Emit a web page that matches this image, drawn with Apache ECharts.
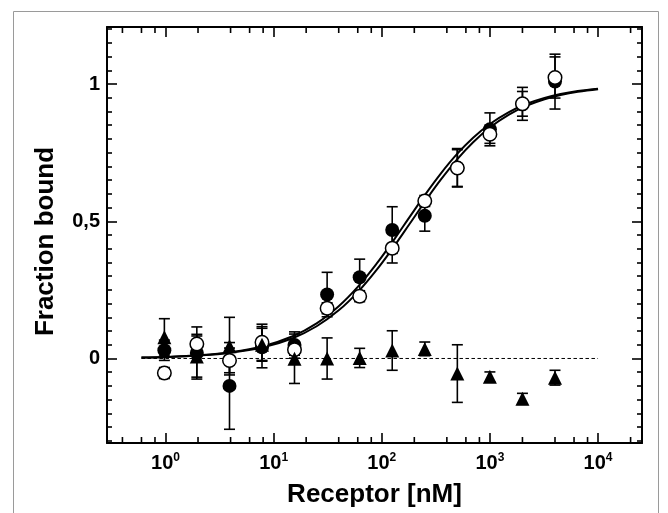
<!DOCTYPE html>
<html>
<head>
<meta charset="utf-8">
<script src="https://cdn.jsdelivr.net/npm/echarts@6/dist/echarts.min.js"></script>
<style>
  html, body { margin: 0; padding: 0; background: #fff; }
  #chart { width: 668px; height: 513px; }
</style>
</head>
<body>
<div id="chart"></div>
<script>
// Receptor concentrations (nM), two-fold dilution series
const conc = [0.977, 1.95, 3.91, 7.81, 15.6, 31.25, 62.5, 125, 250, 500, 1000, 2000, 4000];

// Filled circles
const filledMean = [0.03, 0.02, -0.1, 0.041, 0.049, 0.233, 0.296, 0.468, 0.52, 0.695, 0.835, 0.928, 1.009];
const filledErr  = [0.037, 0.095, 0.158, 0.075, 0.048, 0.081, 0.066, 0.085, 0.056, 0.07, 0.06, 0.06, 0.1];

// Open circles
const openMean = [-0.053, 0.053, -0.007, 0.059, 0.032, 0.183, 0.227, 0.402, 0.574, 0.694, 0.817, 0.928, 1.024];
const openErr  = [0.02, 0.035, 0.045, 0.066, 0.02, 0.02, 0.02, 0.054, 0.02, 0.067, 0.033, 0.045, 0.075];

// Filled triangles
const triMean = [0.077, 0.007, 0.045, 0.05, -0.001, 0.0, 0.002, 0.029, 0.035, -0.055, -0.067, -0.147, -0.07];
const triErr  = [0.068, 0.075, 0.105, 0.06, 0.09, 0.075, 0.035, 0.072, 0.025, 0.105, 0.018, 0.02, 0.027];

// Fitted binding curves, sampled along the concentration range
const fitConc   = [0.6, 1, 2, 4, 8, 15, 25, 40, 60, 90, 130, 180, 250, 350, 500, 700, 1000, 1500, 2200, 3200, 4500, 6500, 10000];
const fitFilled = [0.0035, 0.0058, 0.0116, 0.023, 0.0449, 0.0811, 0.1282, 0.1905, 0.2609, 0.3462, 0.4333, 0.5143, 0.5952, 0.6731, 0.7463, 0.8046, 0.8547, 0.8982, 0.9283, 0.9496, 0.9636, 0.9745, 0.9833];
const fitOpen   = [0.0032, 0.0053, 0.0105, 0.0208, 0.0408, 0.0739, 0.1174, 0.1754, 0.2419, 0.3237, 0.4088, 0.4891, 0.5708, 0.6506, 0.7267, 0.7883, 0.8418, 0.8886, 0.9213, 0.9445, 0.9599, 0.9719, 0.9815];

// Zero reference line span
const baselineConc = [0.6, 10000];

// Axis ranges, ticks and labels
const xRange = [0.288, 25500];
const yRange = [-0.308, 1.208];
const xMinorTicks = [0.4, 0.6, 0.8, 2, 4, 6, 8, 20, 40, 60, 80, 200, 400, 600, 800, 2000, 4000, 6000, 8000, 20000];
const yLabelValues = [0, 0.5, 1];
const yLabelTexts = ['0', '0,5', '1'];

const FONT = '"Liberation Sans", Arial, sans-serif';

const pairs = (xs, ys) => xs.map((x, i) => [x, ys[i]]);
const bars = (xs, m, e) => xs.map((x, i) => [x, m[i] - e[i], m[i] + e[i]]);

function errorBarItem(params, api) {
  const x = api.value(0);
  const lo = api.coord([x, api.value(1)]);
  const hi = api.coord([x, api.value(2)]);
  const cap = 5.5;
  const st = { stroke: '#000', lineWidth: 1.6 };
  return {
    type: 'group',
    children: [
      { type: 'line', shape: { x1: lo[0], y1: lo[1], x2: hi[0], y2: hi[1] }, style: st },
      { type: 'line', shape: { x1: lo[0] - cap, y1: lo[1], x2: lo[0] + cap, y2: lo[1] }, style: st },
      { type: 'line', shape: { x1: hi[0] - cap, y1: hi[1], x2: hi[0] + cap, y2: hi[1] }, style: st }
    ]
  };
}

// Short ticks at 2, 4, 6, 8 within each decade, on the bottom and top frame
function xMinorTickItem(params, api) {
  const cs = params.coordSys;
  const px = api.coord([api.value(0), 0])[0];
  const st = { stroke: '#000', lineWidth: 1.6 };
  const b = cs.y + cs.height, t = cs.y;
  return {
    type: 'group',
    children: [
      { type: 'line', shape: { x1: px, y1: b, x2: px, y2: b - 6 }, style: st },
      { type: 'line', shape: { x1: px, y1: t, x2: px, y2: t + 6 }, style: st }
    ]
  };
}

function xLabel(v) {
  const lg = Math.log10(v);
  const e = Math.round(lg);
  if (Math.abs(lg - e) > 1e-6) return '';
  return '{b|10}{s|' + e + '}';
}

function yLabel(v) {
  for (let i = 0; i < yLabelValues.length; i++) {
    if (Math.abs(v - yLabelValues[i]) < 1e-9) return yLabelTexts[i];
  }
  return '';
}

const lineAxis = { show: true, onZero: false, lineStyle: { color: '#000', width: 2 } };

const baseX = {
  type: 'log',
  logBase: 10,
  min: xRange[0],
  max: xRange[1],
  axisLine: lineAxis,
  splitLine: { show: false },
  axisTick: { show: true, inside: true, length: 10, lineStyle: { color: '#000', width: 1.6 } }
};

const baseY = {
  type: 'value',
  min: yRange[0],
  max: yRange[1],
  minInterval: 0.5,
  maxInterval: 0.5,
  axisLine: lineAxis,
  splitLine: { show: false },
  axisTick: { show: true, inside: true, length: 10, lineStyle: { color: '#000', width: 1.6 } },
  minorTick: { show: true, splitNumber: 10, length: 5, lineStyle: { color: '#000', width: 1.6 } },
  minorSplitLine: { show: false }
};

const chart = echarts.init(document.getElementById('chart'), null, { renderer: 'canvas' });

chart.setOption({
  animation: false,
  backgroundColor: '#fff',
  graphic: [{
    type: 'rect',
    shape: { x: 13.5, y: 11.5, width: 645, height: 540 },
    style: { fill: 'none', stroke: '#9a9a9a', lineWidth: 1 },
    silent: true,
    z: -10
  }],
  grid: { left: 107, right: 26, top: 27, bottom: 66, containLabel: false },
  xAxis: [
    Object.assign({}, baseX, {
      position: 'bottom',
      name: 'Receptor [nM]',
      nameLocation: 'middle',
      nameGap: 39,
      nameTextStyle: { fontFamily: FONT, fontWeight: 'bold', fontSize: 26, color: '#000' },
      axisLabel: {
        margin: 9,
        formatter: xLabel,
        rich: {
          b: { fontFamily: FONT, fontWeight: 'bold', fontSize: 20, lineHeight: 22, color: '#000' },
          s: { fontFamily: FONT, fontWeight: 'bold', fontSize: 12, lineHeight: 12, verticalAlign: 'top', color: '#000' }
        }
      }
    }),
    Object.assign({}, baseX, { position: 'top', axisLabel: { show: false } })
  ],
  yAxis: [
    Object.assign({}, baseY, {
      position: 'left',
      name: 'Fraction bound',
      nameLocation: 'middle',
      nameGap: 48,
      nameRotate: 90,
      nameTextStyle: { fontFamily: FONT, fontWeight: 'bold', fontSize: 26, color: '#000', padding: [0, 13, 0, 0] },
      axisLabel: { margin: 7, formatter: yLabel, fontFamily: FONT, fontWeight: 'bold', fontSize: 20, color: '#000' }
    }),
    Object.assign({}, baseY, { position: 'right', axisLabel: { show: false } })
  ],
  series: [
    {
      type: 'line',
      data: baselineConc.map(c => [c, 0]),
      symbol: 'none',
      lineStyle: { color: '#000', width: 1, type: [3.5, 2.5] },
      z: 2
    },
    {
      type: 'line',
      data: pairs(fitConc, fitFilled),
      smooth: 0.4,
      symbol: 'none',
      lineStyle: { color: '#000', width: 2 },
      z: 2
    },
    {
      type: 'line',
      data: pairs(fitConc, fitOpen),
      smooth: 0.4,
      symbol: 'none',
      lineStyle: { color: '#000', width: 2 },
      z: 2
    },
    { type: 'custom', renderItem: errorBarItem, data: bars(conc, filledMean, filledErr), encode: { x: 0, y: [1, 2] }, z: 3 },
    { type: 'custom', renderItem: errorBarItem, data: bars(conc, openMean, openErr), encode: { x: 0, y: [1, 2] }, z: 3 },
    { type: 'custom', renderItem: errorBarItem, data: bars(conc, triMean, triErr), encode: { x: 0, y: [1, 2] }, z: 3 },
    {
      type: 'scatter',
      data: pairs(conc, filledMean),
      symbol: 'circle',
      symbolSize: 14,
      itemStyle: { color: '#000', opacity: 1 },
      z: 4
    },
    {
      type: 'scatter',
      data: pairs(conc, openMean),
      symbol: 'circle',
      symbolSize: 13.5,
      itemStyle: { color: '#fff', borderColor: '#000', borderWidth: 1.5, opacity: 1 },
      z: 5
    },
    {
      type: 'scatter',
      data: pairs(conc, triMean),
      symbol: 'triangle',
      symbolSize: 14,
      itemStyle: { color: '#000', opacity: 1 },
      z: 6
    },
    { type: 'custom', renderItem: xMinorTickItem, data: xMinorTicks.map(v => [v, 0]), z: 7, silent: true }
  ]
});
</script>
</body>
</html>
